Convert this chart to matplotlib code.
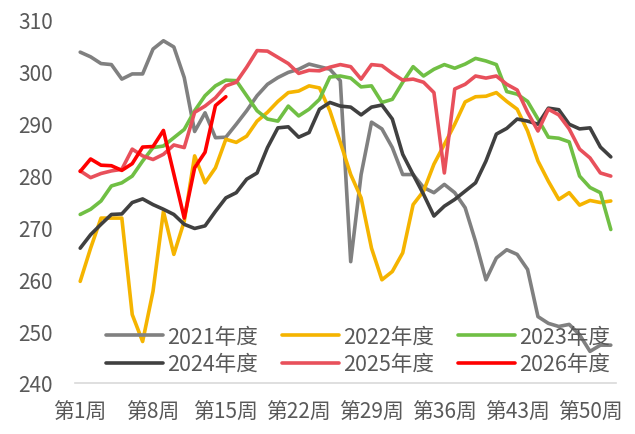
import matplotlib

matplotlib.use("Agg")
import matplotlib.pyplot as plt

plt.rcParams["font.family"] = ["Noto Sans CJK SC", "DejaVu Sans"]

weeks = list(range(1, 53))
tick_weeks = [1, 8, 15, 22, 29, 36, 43, 50]
tick_labels = [f"第{w}周" for w in tick_weeks]

y2021 = [303.8, 302.9, 301.6, 301.4, 298.6, 299.6, 299.6, 304.4, 306.0, 304.8,
         298.9, 288.5, 292.1, 287.3, 287.4, 289.9, 292.5, 295.4, 297.6, 298.9,
         299.9, 300.5, 301.5, 301.0, 300.5, 298.3, 263.4, 280.2, 290.3, 289.0,
         285.4, 280.2, 280.2, 277.7, 276.7, 278.3, 276.7, 273.8, 267.3, 259.9,
         264.1, 265.7, 264.8, 261.9, 252.8, 251.5, 250.9, 251.3, 249.3, 246.1,
         247.3, 247.3]
y2022 = [259.6, 266.0, 271.8, 271.8, 271.8, 253.2, 248.0, 257.7, 273.1, 264.8,
         271.2, 283.8, 278.6, 281.5, 287.0, 286.4, 287.6, 290.5, 292.2, 294.3,
         296.0, 296.3, 297.3, 296.9, 292.5, 286.4, 280.2, 275.7, 266.0, 259.9,
         261.5, 265.1, 274.4, 277.0, 282.2, 286.0, 289.9, 294.2, 295.2, 295.3,
         296.0, 294.3, 292.8, 288.6, 282.8, 278.9, 275.4, 276.7, 274.3, 275.2,
         274.8, 275.1]
y2023 = [272.5, 273.5, 275.1, 278.0, 278.6, 279.9, 282.8, 285.4, 285.7, 287.3,
         288.9, 292.5, 295.4, 297.3, 298.4, 298.3, 295.4, 292.5, 290.9, 290.5,
         293.4, 291.5, 292.8, 294.7, 299.0, 299.2, 298.8, 297.1, 297.3, 294.1,
         294.7, 298.0, 301.0, 299.2, 300.5, 301.4, 300.7, 301.5, 302.6, 302.1,
         301.4, 296.2, 295.7, 294.3, 290.9, 287.4, 287.2, 286.5, 279.9, 277.7,
         276.7, 269.6]
y2024 = [266.0, 268.6, 270.6, 272.5, 272.6, 274.8, 275.5, 274.4, 273.5, 272.5,
         270.6, 269.8, 270.3, 273.1, 275.7, 276.7, 279.3, 280.5, 285.4, 289.2,
         289.4, 287.4, 288.3, 292.8, 294.1, 293.4, 293.2, 291.7, 293.2, 293.6,
         290.9, 284.1, 280.2, 276.4, 272.2, 274.1, 275.4, 277.0, 278.6, 282.8,
         288.0, 289.1, 290.9, 290.5, 289.9, 293.0, 292.7, 289.9, 289.0, 289.2,
         285.5, 283.6]
y2025 = [280.9, 279.6, 280.4, 280.9, 281.2, 285.1, 283.8, 283.1, 284.1, 285.9,
         285.4, 292.2, 293.4, 295.0, 297.3, 298.0, 300.9, 304.1, 304.0, 302.8,
         301.6, 299.7, 300.3, 300.2, 300.9, 301.4, 301.0, 298.6, 301.4, 301.2,
         299.7, 298.4, 298.6, 298.0, 296.0, 280.5, 296.7, 297.6, 299.2, 298.8,
         299.2, 297.6, 296.5, 292.2, 288.6, 292.8, 291.7, 289.0, 285.1, 283.4,
         280.5, 279.9]
y2026 = [280.8, 283.2, 282.0, 281.9, 281.0, 282.3, 285.5, 285.6, 288.7, 280.3,
         271.8, 281.5, 284.5, 293.5, 295.2]

# drawn oldest first so later seasons sit on top
series = [
    ("2021年度", y2021, "#808080"),
    ("2022年度", y2022, "#F5B400"),
    ("2023年度", y2023, "#70BF44"),
    ("2024年度", y2024, "#404040"),
    ("2025年度", y2025, "#E8505B"),
    ("2026年度", y2026, "#FF0000"),
]

fig = plt.figure(figsize=(6.35, 4.35), dpi=100)
ax = fig.add_axes([75 / 635, 1 - 384 / 435, 541 / 635, 363 / 435])

handles = []
for label, ys, color in series:
    (ln,) = ax.plot(weeks[:len(ys)], ys, color=color, lw=2.6, label=label,
                    solid_joinstyle="round", solid_capstyle="round")
    handles.append(ln)

ax.set_xlim(0.5, 52.5)
ax.set_ylim(240, 310)
ax.set_yticks(range(240, 311, 10))
ax.set_xticks(tick_weeks)
ax.set_xticklabels(tick_labels)

for side in ("top", "right", "left"):
    ax.spines[side].set_visible(False)
ax.spines["bottom"].set_color("#D9D9D9")
ax.spines["bottom"].set_linewidth(1.2)
ax.tick_params(axis="both", length=0, labelsize=15, labelcolor="#595959")
ax.tick_params(axis="y", pad=16)
ax.tick_params(axis="x", pad=13)

# legend fills column-wise, so reorder to read row-wise 2021..2023 / 2024..2026
order = [0, 3, 1, 4, 2, 5]
ax.legend([handles[i] for i in order], [series[i][0] for i in order],
          loc="center", bbox_to_anchor=(358 / 635, 1 - 351.5 / 435),
          bbox_transform=fig.transFigure, ncol=3, frameon=False,
          fontsize=15.5, labelcolor="#595959", handlelength=2.65,
          handletextpad=0.2, columnspacing=1.1, labelspacing=0.25,
          borderpad=0)

fig.savefig("out.png", dpi=100)
